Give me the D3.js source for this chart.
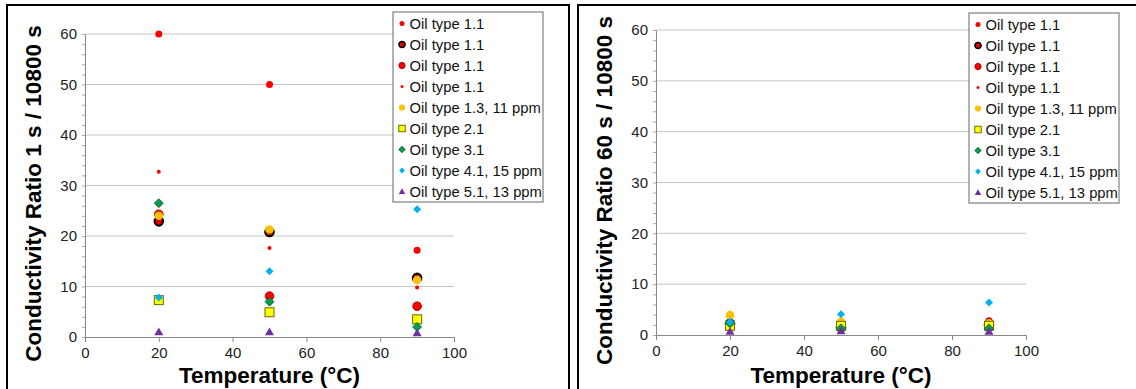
<!DOCTYPE html>
<html lang="en">
<head>
<meta charset="UTF-8">
<script src="https://cdn.jsdelivr.net/npm/d3@7/dist/d3.min.js"></script>
<title>Conductivity ratio</title>
<style>
  body { margin: 0; background: #fff; }
  text { font-family: "Liberation Sans", Arial, sans-serif; }
</style>
</head>
<body>
<svg id="main_svg" width="1136" height="389"></svg>
<script>
// data
var temps = [20, 50, 90];
var seriesNames = ["Oil type 1.1", "Oil type 1.1", "Oil type 1.1", "Oil type 1.1",
    "Oil type 1.3, 11 ppm", "Oil type 2.1", "Oil type 3.1", "Oil type 4.1, 15 ppm", "Oil type 5.1, 13 ppm"];
// ratio 1 s / 10800 s
var ratio1s = [
    [60, 50, 17.2],
    [22.9, 20.8, 11.7],
    [24.3, 8.1, 6.1],
    [32.7, 17.6, 9.8],
    [24.0, 21.3, 11.3],
    [7.3, 4.9, 3.5],
    [26.5, 7.0, 2.0],
    [7.8, 13.0, 25.3],
    [1.0, 1.0, 0.8]
];
// ratio 60 s / 10800 s
var ratio60s = [
    [2.1, 1.7, 2.8],
    [2.2, 1.5, 2.0],
    [2.0, 1.6, 2.4],
    [1.9, 1.4, 2.0],
    [3.9, 2.6, 2.3],
    [1.8, 1.8, 1.8],
    [2.3, 1.3, 1.3],
    [2.6, 4.1, 6.4],
    [0.7, 0.8, 0.7]
];
var xTicks = [0, 20, 40, 60, 80, 100];
var yTicks = [0, 10, 20, 30, 40, 50, 60];

// marker styles per series
var styles = [
    { shape: "circle", r: 3.5, fill: "#ff0000", stroke: "none", sw: 0 },
    { shape: "circle", r: 4.3, fill: "#e00000", stroke: "#000", sw: 2 },
    { shape: "circle", r: 4.3, fill: "#ff0000", stroke: "#b00000", sw: 1 },
    { shape: "circle", r: 2, fill: "#ff0000", stroke: "none", sw: 0 },
    { shape: "circle", r: 4.3, fill: "#ffc000", stroke: "none", sw: 0 },
    { shape: "square", s: 9, fill: "#ffff00", stroke: "#6b6b00", sw: 1 },
    { shape: "diamond", s: 4.5, fill: "#00a050", stroke: "#205030", sw: 0.8 },
    { shape: "diamond", s: 4, fill: "#00b0f0", stroke: "none", sw: 0 },
    { shape: "triangle", s: 4.5, fill: "#7030a0", stroke: "none", sw: 0 }
];

var svg = d3.select("#main_svg");

function drawMarker(g, st) {
    var m;
    if (st.shape == "circle") {
        m = g.append("circle").attr("r", st.r);
    } else if (st.shape == "square") {
        m = g.append("rect").attr("x", -st.s / 2).attr("y", -st.s / 2)
            .attr("width", st.s).attr("height", st.s);
    } else if (st.shape == "diamond") {
        var s = st.s;
        m = g.append("path").attr("d", "M0," + (-s) + "L" + s + ",0L0," + s + "L" + (-s) + ",0Z");
    } else {
        var s = st.s;
        m = g.append("path").attr("d", "M0," + (-s) + "L" + s + "," + (s * 0.75) + "L" + (-s) + "," + (s * 0.75) + "Z");
    }
    m.attr("fill", st.fill).attr("stroke", st.stroke).attr("stroke-width", st.sw);
}

function drawPanel(cfg) {
    // panel frame
    svg.append("rect")
        .attr("x", cfg.frame[0]).attr("y", cfg.frame[1])
        .attr("width", cfg.frame[2]).attr("height", cfg.frame[3])
        .attr("fill", "none").attr("stroke", "#000").attr("stroke-width", 2);

    var x = d3.scaleLinear().domain([0, 100]).range([cfg.left, cfg.right]);
    var y = d3.scaleLinear().domain([0, 60]).range([cfg.bottom, cfg.top]);
    var g = svg.append("g");

    // gridlines
    g.selectAll("line.grid").data(yTicks.slice(1)).enter().append("line")
        .attr("x1", cfg.left).attr("x2", cfg.right)
        .attr("y1", function (d) { return y(d); }).attr("y2", function (d) { return y(d); })
        .attr("stroke", "#c4c4c4").attr("stroke-width", 1);

    // y axis
    var ya = g.append("g").attr("transform", "translate(" + cfg.left + ",0)")
        .call(d3.axisLeft(y).tickValues(yTicks).tickSize(0).tickPadding(8));
    ya.select(".domain").attr("stroke", "#888");
    ya.selectAll("text").style("font-size", "15px").attr("fill", "#222")
        .style("font-family", "Liberation Sans, Arial, sans-serif");
    // minor ticks
    g.append("g").attr("transform", "translate(" + cfg.left + ",0)")
        .call(d3.axisLeft(y).ticks(30).tickSize(3).tickFormat(""))
        .call(function (s) { s.select(".domain").remove(); s.selectAll("line").attr("stroke", "#aaa"); });

    // x axis
    var xa = g.append("g").attr("transform", "translate(0," + cfg.bottom + ")")
        .call(d3.axisBottom(x).tickValues(xTicks).tickSize(5).tickPadding(5));
    xa.select(".domain").attr("stroke", "#888");
    xa.selectAll("line").attr("stroke", "#888");
    xa.selectAll("text").style("font-size", "15px").attr("fill", "#222")
        .style("font-family", "Liberation Sans, Arial, sans-serif");

    // axis titles
    g.append("text")
        .attr("transform", "translate(" + cfg.ytitleX + "," + ((cfg.top + cfg.bottom) / 2 + 8) + ") rotate(-90)")
        .attr("text-anchor", "middle").style("font-size", "22.5px").attr("font-weight", "bold")
        .text(cfg.ytitle);
    g.append("text")
        .attr("x", (cfg.left + cfg.right) / 2).attr("y", 383)
        .attr("text-anchor", "middle").style("font-size", "22.5px").attr("font-weight", "bold")
        .text("Temperature (°C)");

    // points
    cfg.data.forEach(function (vals, si) {
        g.append("g").selectAll("g").data(vals).enter().append("g")
            .attr("transform", function (d, i) { return "translate(" + x(temps[i]) + "," + y(d) + ")"; })
            .each(function () { drawMarker(d3.select(this), styles[si]); });
    });

    // legend
    var lg = g.append("g").attr("transform", "translate(" + cfg.legend[0] + "," + cfg.legend[1] + ")");
    lg.append("rect").attr("width", 150).attr("height", 190)
        .attr("fill", "#fff").attr("stroke", "#666").attr("stroke-width", 1);
    seriesNames.forEach(function (name, i) {
        var row = lg.append("g").attr("transform", "translate(9," + (11.5 + i * 21) + ")");
        var st = Object.assign({}, styles[i]);
        // legend markers are a bit smaller
        if (st.r) st.r = Math.max(1.5, st.r * 0.72);
        if (st.s) st.s = st.s * 0.72;
        if (st.sw > 1) st.sw = 1.5;
        drawMarker(row, st);
        row.append("text").attr("x", 7.5).attr("y", 5.5)
            .style("font-size", "14.8px").attr("fill", "#111").text(name);
    });
}

drawPanel({
    frame: [7, 5, 562, 400],
    left: 85, right: 454, top: 34, bottom: 337,
    ytitle: "Conductivity Ratio 1 s / 10800 s", ytitleX: 41,
    data: ratio1s,
    legend: [393, 12]
});

drawPanel({
    frame: [578, 5, 570, 400],
    left: 656, right: 1026, top: 30, bottom: 335,
    ytitle: "Conductivity Ratio 60 s / 10800 s", ytitleX: 612,
    data: ratio60s,
    legend: [969, 13]
});
</script>
</body>
</html>
